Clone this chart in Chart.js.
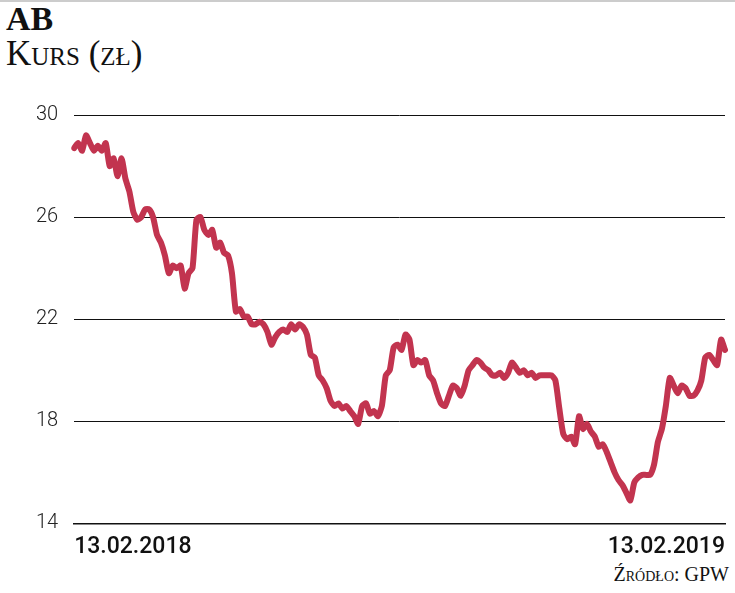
<!DOCTYPE html>
<html><head><meta charset="utf-8">
<script src="https://cdn.jsdelivr.net/npm/chart.js@4"></script>
<style>
html,body{margin:0;padding:0;background:#fff;width:735px;height:593px;overflow:hidden}
#wrap{position:absolute;left:0;top:0;width:735px;height:593px}
.t{position:absolute;font-family:"Liberation Serif","DejaVu Serif",serif;color:#111}
#top{position:absolute;left:0;top:0;width:735px;height:2px;background:#ccc}
</style></head><body>
<div id="top"></div>
<div class="t" style="left:6px;top:0px;font-size:34px;font-weight:bold;">AB</div>
<div class="t" style="left:6px;top:34px;font-size:35px;font-variant:small-caps;">Kurs (zł)</div>
<div class="t" style="right:6px;top:563px;font-size:20px;font-variant:small-caps;">Źródło: GPW</div>
<div id="wrap"><canvas id="c" width="735" height="593"></canvas></div>
<script>
const startLabel="13.02.2018", endLabel="13.02.2019";
const values=[28.7,28.9,28.6,29.2,28.9,28.6,28.8,28.6,28.9,28.0,28.3,27.6,28.3,27.5,27.0,26.2,25.9,26.0,26.3,26.3,26.0,25.3,25.0,24.5,23.8,24.1,24.0,24.1,23.2,23.8,24.0,25.9,26.0,25.5,25.3,25.5,24.8,25.0,24.6,24.5,23.8,22.3,22.4,22.1,22.1,21.8,21.8,21.9,21.8,21.5,21.0,21.3,21.5,21.6,21.5,21.8,21.6,21.8,21.7,21.4,20.6,20.5,19.8,19.6,19.3,18.8,18.6,18.7,18.5,18.6,18.4,18.2,17.9,18.6,18.7,18.3,18.4,18.2,18.6,19.8,20.0,20.9,21.0,20.8,21.4,21.2,20.2,20.4,20.3,20.4,19.8,19.6,19.1,18.7,18.6,19.0,19.4,19.3,19.0,19.4,20.0,20.2,20.4,20.3,20.1,20.0,19.8,19.8,19.9,19.7,19.9,20.3,20.1,19.9,20.0,19.8,19.9,19.7,19.8,19.8,19.8,19.8,19.6,18.5,17.5,17.3,17.4,17.1,18.2,17.7,17.9,17.6,17.4,17.0,17.1,16.8,16.4,16.0,15.7,15.5,15.2,14.9,15.6,15.8,15.9,15.9,15.9,16.3,17.2,17.7,18.6,19.7,19.4,19.1,19.4,19.3,19.0,19.0,19.2,19.6,20.5,20.6,20.4,20.2,21.2,20.8];
const labels=values.map((v,i)=>i===0?startLabel:(i===values.length-1?endLabel:""));
const yTicks=[14,18,22,26,30];
new Chart(document.getElementById('c'),{
 type:'line',
 data:{labels,datasets:[{data:values,borderColor:'#c2344f',borderWidth:6,pointRadius:0,tension:0.2,borderJoinStyle:'round',borderCapStyle:'round'}]},
 options:{responsive:false,animation:false,
  layout:{padding:{left:20,right:10,top:115,bottom:30}},
  plugins:{legend:{display:false},tooltip:{enabled:false}},
  scales:{
   x:{grid:{display:false},border:{color:'#111',width:1.5},
      ticks:{autoSkip:false,maxRotation:0,align:'inner',color:'#111',font:{family:'Roboto',size:23,weight:'500'},padding:2,
             callback:(v,i)=>labels[i]}},
   y:{min:14,max:30,afterBuildTicks:a=>{a.ticks=yTicks.map(v=>({value:v}));},
      grid:{color:'#111',lineWidth:1,drawTicks:false},border:{display:false},
      ticks:{color:'#222',font:{family:'Roboto',size:20,weight:'300'},padding:16}}
  }}
});
</script></body></html>
